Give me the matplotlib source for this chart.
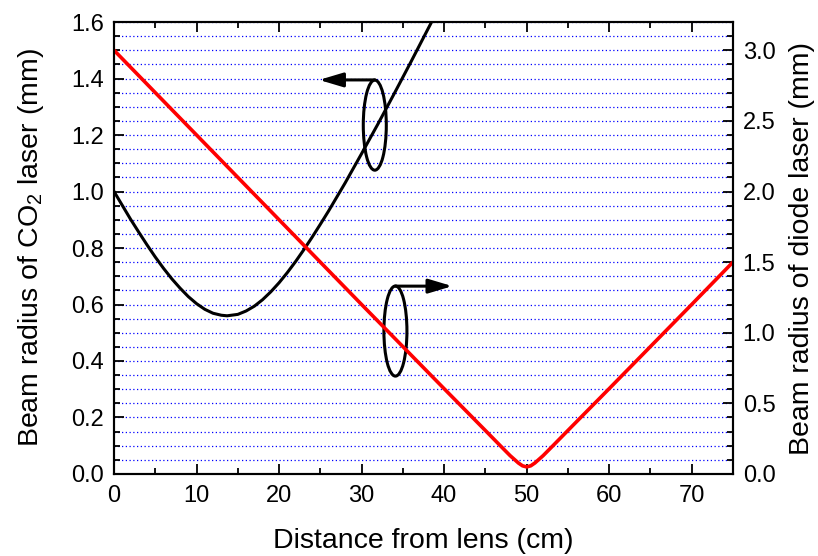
import matplotlib
matplotlib.use("Agg")
import matplotlib.pyplot as plt
from matplotlib.patches import Ellipse
from matplotlib.ticker import MultipleLocator, FormatStrFormatter

plt.rcParams['font.family'] = ['Liberation Sans', 'DejaVu Sans']
plt.rcParams['mathtext.fontset'] = 'custom'
plt.rcParams['mathtext.rm'] = 'Liberation Sans'
plt.rcParams['mathtext.it'] = 'Liberation Sans:italic'

# CO2 laser beam radius (left axis, mm) vs distance (cm)
co2_x = [0, 1, 2, 3, 4, 5, 6, 7, 8, 9, 10, 11, 12, 13, 13.7, 15, 16, 17, 18, 19, 20,
         21, 22, 23, 24, 25, 26, 28, 30, 32, 34, 36, 38, 39]
co2_r = [1.000, 0.951, 0.902, 0.856, 0.811, 0.768, 0.728, 0.691, 0.658, 0.628, 0.603,
         0.583, 0.569, 0.562, 0.560, 0.565, 0.577, 0.594, 0.617, 0.645, 0.677,
         0.713, 0.752, 0.794, 0.838, 0.884, 0.931, 1.030, 1.134, 1.240, 1.349, 1.460,
         1.573, 1.629]

# Diode laser beam radius (right axis, mm) vs distance (cm)
diode_x = [0, 10, 20, 30, 40, 45, 47, 48, 49, 49.5, 50, 50.5, 51, 52, 53, 55, 60, 70, 75]
diode_r = [3.0, 2.4, 1.8, 1.2, 0.604, 0.308, 0.189, 0.130, 0.078, 0.058, 0.050, 0.058,
           0.078, 0.130, 0.189, 0.308, 0.604, 1.2, 1.5]

x_label = "Distance from lens (cm)"
left_label = "Beam radius of CO$_2$ laser (mm)"
right_label = "Beam radius of diode laser (mm)"

fig = plt.figure(figsize=(8.18, 5.56), dpi=100)
ax = fig.add_axes([0.1394, 0.1475, 0.7566, 0.8129])
ax2 = ax.twinx()

ax.set_xlim(0, 75)
ax.set_ylim(0, 1.6)
ax2.set_ylim(0, 3.2)

ax.xaxis.set_major_locator(MultipleLocator(10))
ax.xaxis.set_minor_locator(MultipleLocator(5))
ax.yaxis.set_major_locator(MultipleLocator(0.2))
ax.yaxis.set_minor_locator(MultipleLocator(0.05))
ax2.yaxis.set_major_locator(MultipleLocator(0.5))
ax2.yaxis.set_minor_locator(MultipleLocator(0.1))
ax.yaxis.set_major_formatter(FormatStrFormatter('%.1f'))
ax2.yaxis.set_major_formatter(FormatStrFormatter('%.1f'))

ax.set_axisbelow(True)
ax.grid(axis='y', which='both', color='#0000ff', linestyle=(0, (1, 2)), linewidth=0.9)

ax.tick_params(axis='both', which='both', direction='in', labelsize=17, width=1.3)
ax.tick_params(axis='x', which='both', top=True, pad=8)
ax.tick_params(axis='y', which='both', right=False, pad=7)
ax.tick_params(which='major', length=7)
ax.tick_params(which='minor', length=4)
ax2.tick_params(axis='y', which='both', direction='in', labelsize=17, width=1.3, pad=7)
ax2.tick_params(which='major', length=7)
ax2.tick_params(which='minor', length=4)
for a in (ax, ax2):
    for s in a.spines.values():
        s.set_linewidth(1.5)

ax.plot(co2_x, co2_r, color='black', lw=2.2)
ax2.plot(diode_x, diode_r, color='#ff0000', lw=2.6)

ax.set_xlabel(x_label, fontsize=20.5, labelpad=15)
ax.set_ylabel(left_label, fontsize=20.5, labelpad=18)
ax2.set_ylabel(right_label, fontsize=20.5, labelpad=10)

# annotation ellipses with arrows
ax.add_patch(Ellipse((31.6, 1.235), 2.79, 0.319, fill=False, ec='black', lw=2.2, zorder=5))
ax.add_patch(Ellipse((34.1, 0.506), 2.79, 0.319, fill=False, ec='black', lw=2.2, zorder=5))
ax.annotate('', xy=(24.85, 1.395), xytext=(31.6, 1.395),
            arrowprops=dict(arrowstyle='-|>,head_length=1.44,head_width=0.43',
                            mutation_scale=10, lw=2.2, color='black',
                            shrinkA=0, shrinkB=0), zorder=5)
ax.annotate('', xy=(41.0, 0.665), xytext=(34.1, 0.665),
            arrowprops=dict(arrowstyle='-|>,head_length=1.44,head_width=0.43',
                            mutation_scale=10, lw=2.2, color='black',
                            shrinkA=0, shrinkB=0), zorder=5)

fig.savefig("out.png", dpi=100)
